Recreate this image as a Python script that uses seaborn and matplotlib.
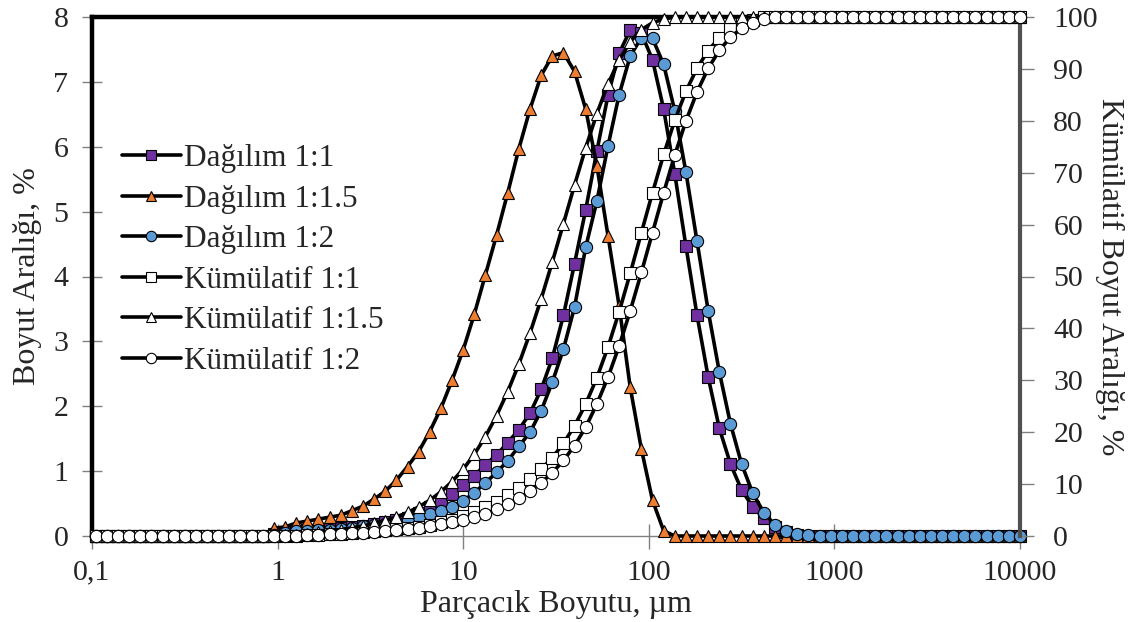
import matplotlib
matplotlib.use('Agg')
import matplotlib.pyplot as plt
import seaborn as sns
from matplotlib.ticker import FixedLocator, FixedFormatter, NullLocator
from matplotlib.lines import Line2D

# Particle size classes (µm)
size_um = [0.105, 0.120, 0.138, 0.158, 0.182, 0.209, 0.240, 0.275, 0.316, 0.363,
           0.417, 0.479, 0.550, 0.631, 0.724, 0.832, 0.955, 1.096, 1.259, 1.445,
           1.660, 1.905, 2.188, 2.512, 2.884, 3.311, 3.802, 4.365, 5.012, 5.754,
           6.607, 7.586, 8.710, 10.000, 11.482, 13.183, 15.136, 17.378, 19.953, 22.909,
           26.303, 30.200, 34.674, 39.811, 45.709, 52.481, 60.256, 69.183, 79.433, 91.201,
           104.713, 120.226, 138.038, 158.489, 181.970, 208.930, 239.883, 275.423, 316.228, 363.078,
           416.869, 478.630, 549.541, 630.957, 724.436, 831.764, 954.993, 1096.478, 1258.925, 1445.440,
           1659.587, 1905.461, 2187.762, 2511.886, 2884.032, 3311.311, 3801.894, 4365.158, 5011.872, 5754.399,
           6606.934, 7585.776, 8709.636, 10000.000]

# Size distribution (%), left axis
dist_11 = [0] * 16 + [
    0.03, 0.06, 0.08, 0.09, 0.10, 0.11, 0.12, 0.14, 0.16, 0.18,
    0.21, 0.24, 0.28, 0.36, 0.45, 0.54, 0.65, 0.78, 0.93, 1.10,
    1.25, 1.44, 1.64, 1.89, 2.26, 2.74, 3.40, 4.20, 5.03, 5.93,
    6.79, 7.44, 7.80, 7.75, 7.34, 6.58, 5.58, 4.47, 3.40, 2.45,
    1.66, 1.11, 0.71, 0.45, 0.27, 0.14, 0.06, 0.02] + [0] * 20
dist_115 = [0] * 16 + [
    0.12, 0.14, 0.20, 0.23, 0.26, 0.29, 0.32, 0.39, 0.46, 0.57,
    0.69, 0.86, 1.07, 1.30, 1.61, 1.97, 2.40, 2.87, 3.42, 4.03,
    4.64, 5.29, 5.97, 6.58, 7.10, 7.40, 7.45, 7.16, 6.58, 5.71,
    4.63, 3.55, 2.29, 1.34, 0.55, 0.08] + [0] * 32
dist_12 = [0] * 16 + [
    0.02, 0.05, 0.07, 0.08, 0.09, 0.10, 0.11, 0.13, 0.15, 0.17,
    0.19, 0.22, 0.25, 0.29, 0.34, 0.39, 0.45, 0.54, 0.67, 0.82,
    0.98, 1.16, 1.38, 1.60, 1.93, 2.37, 2.88, 3.53, 4.45, 5.16,
    6.01, 6.80, 7.40, 7.68, 7.67, 7.27, 6.55, 5.61, 4.54, 3.47,
    2.53, 1.73, 1.11, 0.66, 0.36, 0.17, 0.08, 0.03, 0.01] + [0] * 19

# Cumulative (%), right axis
cum_11 = [0] * 17 + [
    0.03, 0.09, 0.17, 0.26, 0.36, 0.47, 0.59, 0.73, 0.89, 1.07,
    1.28, 1.52, 1.80, 2.16, 2.61, 3.15, 3.80, 4.58, 5.51, 6.61,
    7.86, 9.30, 10.94, 12.83, 15.09, 17.83, 21.23, 25.43, 30.46, 36.39,
    43.18, 50.62, 58.42, 66.17, 73.51, 80.09, 85.67, 90.14, 93.54, 95.99,
    97.65, 98.76, 99.47, 99.92] + [100] * 23
cum_115 = [0] * 17 + [
    0.12, 0.26, 0.46, 0.69, 0.95, 1.24, 1.56, 1.95, 2.41, 2.98,
    3.67, 4.53, 5.60, 6.90, 8.51, 10.48, 12.88, 15.75, 19.17, 23.20,
    27.84, 33.13, 39.10, 45.68, 52.78, 60.18, 67.63, 74.79, 81.37, 87.08,
    91.71, 95.26, 97.55, 98.89, 99.60] + [100] * 32
cum_12 = [0] * 17 + [
    0.02, 0.07, 0.14, 0.22, 0.31, 0.41, 0.52, 0.65, 0.80, 0.97,
    1.16, 1.38, 1.63, 1.92, 2.26, 2.65, 3.10, 3.64, 4.31, 5.13,
    6.11, 7.27, 8.65, 10.25, 12.18, 14.55, 17.43, 20.96, 25.41, 30.57,
    36.58, 43.38, 50.78, 58.46, 66.13, 73.40, 79.95, 85.56, 90.10, 93.57,
    96.10, 97.83, 98.94, 99.60, 99.96] + [100] * 22

labels_dist = ['Dağılım 1:1', 'Dağılım 1:1.5', 'Dağılım 1:2']
labels_cum = ['Kümülatif 1:1', 'Kümülatif 1:1.5', 'Kümülatif 1:2']
x_ticks = [0.1, 1, 10, 100, 1000, 10000]
x_tick_labels = ['0,1', '1', '10', '100', '1000', '10000']
y_left_ticks = [0, 1, 2, 3, 4, 5, 6, 7, 8]
y_right_ticks = [0, 10, 20, 30, 40, 50, 60, 70, 80, 90, 100]

sns.set_style('white')
plt.rcParams['font.family'] = ['Liberation Serif', 'DejaVu Serif']

W, H = 1128, 622
fig = plt.figure(figsize=(W / 100, H / 100), dpi=100)
ax = fig.add_axes([92 / W, 86 / H, 928 / W, 519 / H])
ax.set_xscale('log')
ax2 = ax.twinx()

markers = ['s', '^', 'o']
dist_colors = ['#7030A0', '#ED7D31', '#5B9BD5']
msizes = [8.0, 9.0, 8.8]
LW = 2.6

handles = []
for lab, data, mk, col, ms in zip(labels_dist, [dist_11, dist_115, dist_12], markers, dist_colors, msizes):
    sns.lineplot(x=size_um, y=data, ax=ax, color='black', linewidth=LW, marker=mk,
                 markersize=ms, markerfacecolor=col, markeredgecolor='black',
                 markeredgewidth=0.8, clip_on=False, zorder=3, legend=False)
    handles.append(Line2D([], [], color='black', lw=LW, marker=mk, markersize=ms * 0.85,
                          markerfacecolor=col, markeredgecolor='black', markeredgewidth=0.8,
                          label=lab))
for lab, data, mk, ms in zip(labels_cum, [cum_11, cum_115, cum_12], markers, msizes):
    sns.lineplot(x=size_um, y=data, ax=ax2, color='black', linewidth=LW, marker=mk,
                 markersize=ms, markerfacecolor='white', markeredgecolor='black',
                 markeredgewidth=0.8, clip_on=False, zorder=3, legend=False)
    handles.append(Line2D([], [], color='black', lw=LW, marker=mk, markersize=ms * 0.85,
                          markerfacecolor='white', markeredgecolor='black', markeredgewidth=0.8,
                          label=lab))

ax.set_xlim(0.1, 10000)
ax.set_ylim(0, 8)
ax2.set_ylim(0, 100)

ax.xaxis.set_major_locator(FixedLocator(x_ticks))
ax.xaxis.set_major_formatter(FixedFormatter(x_tick_labels))
ax.xaxis.set_minor_locator(NullLocator())
ax.set_yticks(y_left_ticks)
ax2.set_yticks(y_right_ticks)

tick_col = '#808080'
ax.tick_params(axis='x', direction='inout', length=18, width=1, color=tick_col,
               labelsize=21.5, pad=8, bottom=True)
ax.tick_params(axis='y', direction='inout', length=14, width=1, color=tick_col,
               labelsize=21.5, pad=10, left=True)
ax2.tick_params(axis='y', direction='out', length=10, width=1, color=tick_col,
                labelsize=21.5, pad=14, right=True)

for s in ['left', 'top']:
    ax.spines[s].set_color('black')
    ax.spines[s].set_linewidth(3.2)
ax.spines['bottom'].set_color(tick_col)
ax.spines['bottom'].set_linewidth(1)
ax.spines['right'].set_visible(False)
for s in ['left', 'top', 'bottom']:
    ax2.spines[s].set_visible(False)
ax2.spines['right'].set_color('#505050')
ax2.spines['right'].set_linewidth(3.0)

ax.set_xlabel('Parçacık Boyutu, µm', fontsize=23, labelpad=3)
ax.set_ylabel('Boyut Aralığı, %', fontsize=23, labelpad=8)
ax2.set_ylabel('Kümülatif Boyut Aralığı, %', fontsize=23, rotation=270, labelpad=19)

leg = ax2.legend(handles=handles, loc='center left', bbox_to_anchor=(0.032, 0.532),
                 frameon=False, fontsize=22.5, handlelength=1.9, handletextpad=0.1,
                 labelspacing=0.37, borderpad=0, borderaxespad=0)

fig.savefig('out.png', dpi=100)
